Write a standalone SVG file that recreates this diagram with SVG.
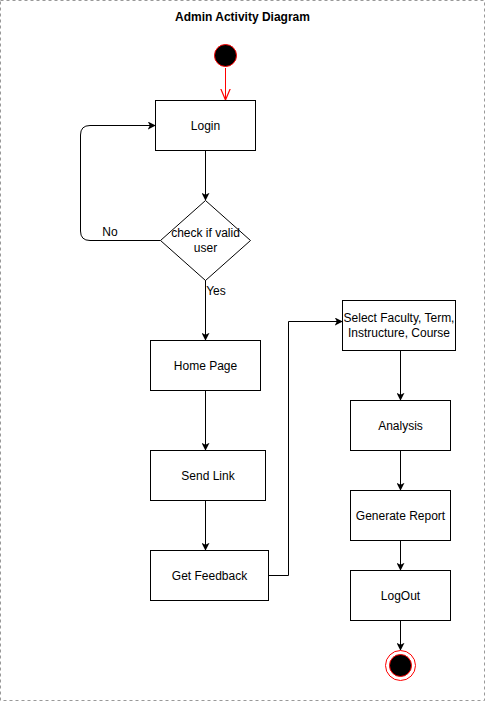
<svg xmlns="http://www.w3.org/2000/svg" width="486" height="701" viewBox="0 0 486 701">
<style>
.box{fill:#fff;stroke:#000;stroke-width:1}
.t{font-family:"Liberation Sans",Arial,sans-serif;font-size:12px;fill:#000;text-anchor:middle}
.c{fill:none;stroke:#000;stroke-width:1}
</style>
<defs>
<marker id="ah" viewBox="0 0 10 10" refX="9" refY="5" markerWidth="8" markerHeight="8" markerUnits="userSpaceOnUse" orient="auto">
<path d="M0,0 L10,5 L0,10 L2.5,5 Z" fill="#000"/>
</marker>
<marker id="ahr" viewBox="0 0 10 10" refX="9.5" refY="5" markerWidth="12" markerHeight="12" markerUnits="userSpaceOnUse" orient="auto">
<path d="M0,1 L9.5,5 L0,9" fill="none" stroke="#ff0000" stroke-width="1"/>
</marker>
</defs>
<rect x="0.5" y="0.5" width="484" height="700" fill="#fff" stroke="#999" stroke-dasharray="3 3"/>
<text x="242.5" y="21" class="t" style="font-weight:bold">Admin Activity Diagram</text>
<g id="connectors">
<line x1="225.5" y1="68" x2="225.5" y2="100" stroke="#ff0000" fill="none" marker-end="url(#ahr)"/>
<path class="c" d="M205.5,150 V200" marker-end="url(#ah)"/>
<path class="c" d="M160.5,240.5 H90 Q80.5,240.5 80.5,231 V135 Q80.5,125.5 90,125.5 H155" marker-end="url(#ah)"/>
<text x="110" y="236" class="t">No</text>
<path class="c" d="M205.5,280 V340" marker-end="url(#ah)"/>
<text x="216" y="295" class="t">Yes</text>
<path class="c" d="M205.5,390 V450" marker-end="url(#ah)"/>
<path class="c" d="M205.5,500 V550" marker-end="url(#ah)"/>
<path class="c" d="M268,575.5 H288.5 V321.5 H342" marker-end="url(#ah)"/>
<path class="c" d="M400.5,350 V400" marker-end="url(#ah)"/>
<path class="c" d="M400.5,450 V490" marker-end="url(#ah)"/>
<path class="c" d="M400.5,540 V570" marker-end="url(#ah)"/>
<path class="c" d="M400.5,620 V650" marker-end="url(#ah)"/>
</g>
<g id="start">
<circle cx="225.5" cy="55.5" r="11" fill="#000" stroke="#ff0000" stroke-width="1"/>
</g>
<g id="login">
<rect class="box" x="155.5" y="100.5" width="100" height="50"/>
<text x="205.5" y="130" class="t">Login</text>
</g>
<g id="decision">
<path class="box" d="M205.5,200.5 L250.5,240.5 L205.5,280.5 L160.5,240.5 Z"/>
<text x="205.5" y="237" class="t">check if valid</text>
<text x="205.5" y="252" class="t">user</text>
</g>
<g id="home">
<rect class="box" x="150.5" y="340.5" width="110" height="50"/>
<text x="205.5" y="370" class="t">Home Page</text>
</g>
<g id="sendlink">
<rect class="box" x="150.5" y="450.5" width="115" height="50"/>
<text x="208" y="480" class="t">Send Link</text>
</g>
<g id="feedback">
<rect class="box" x="150.5" y="550.5" width="118" height="50"/>
<text x="209.5" y="580" class="t">Get Feedback</text>
</g>
<g id="select">
<rect class="box" x="342.5" y="300.5" width="113" height="50"/>
<text x="399" y="322" class="t">Select Faculty, Term,</text>
<text x="399" y="337" class="t">Instructure, Course</text>
</g>
<g id="analysis">
<rect class="box" x="350.5" y="400.5" width="100" height="50"/>
<text x="400.5" y="430" class="t">Analysis</text>
</g>
<g id="report">
<rect class="box" x="350.5" y="490.5" width="100" height="50"/>
<text x="400.5" y="520" class="t">Generate Report</text>
</g>
<g id="logout">
<rect class="box" x="350.5" y="570.5" width="100" height="50"/>
<text x="400.5" y="600" class="t">LogOut</text>
</g>
<g id="end">
<circle cx="400.5" cy="665.5" r="15" fill="#fff" stroke="#ff0000" stroke-width="1"/>
<circle cx="400.5" cy="665.5" r="11" fill="#000" stroke="#ff0000" stroke-width="1"/>
</g>
</svg>
